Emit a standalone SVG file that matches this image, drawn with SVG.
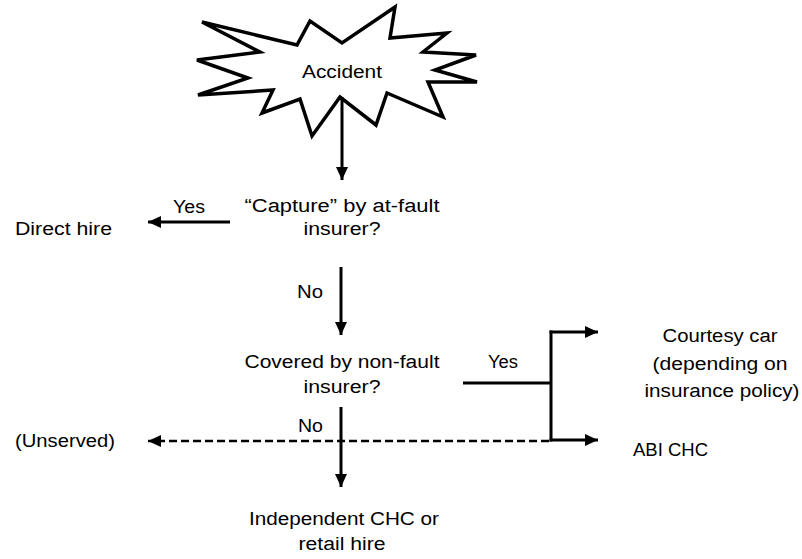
<svg xmlns="http://www.w3.org/2000/svg" width="802" height="559" viewBox="0 0 802 559">
<style>
text{font-family:"Liberation Sans",Arial,sans-serif;font-size:18px;fill:#000}
.c{text-anchor:middle}
.ln{stroke:#000;stroke-width:3;fill:none}
.dash{stroke:#000;stroke-width:2.5;fill:none;stroke-dasharray:8 4}
</style>
<defs>
<marker id="ah" markerUnits="userSpaceOnUse" markerWidth="14" markerHeight="12" refX="13" refY="6" orient="auto">
<path d="M0,0 L13,6 L0,12 Z" fill="#000"/>
</marker>
</defs>
<rect width="802" height="559" fill="#fff"/>
<g id="accident">
<polygon points="202,22 297,45 310,21 342,43 395,7 390,38 447,33 423,52 476,55 435,70 477,82 428,82 443,117 387,93 376,125 340,97 312,136 300,99 262,113 273,90 198,95 248,78 197,60 260,52" fill="#fff" stroke="#000" stroke-width="3.5" stroke-linejoin="miter"/>
<text class="c" x="342" y="78" textLength="80" lengthAdjust="spacingAndGlyphs">Accident</text>
</g>
<g id="capture">
<text class="c" x="342" y="212" textLength="195" lengthAdjust="spacingAndGlyphs">“Capture” by at-fault</text>
<text class="c" x="342" y="235" textLength="77" lengthAdjust="spacingAndGlyphs">insurer?</text>
</g>
<g id="direct-hire"><text x="15" y="235" textLength="97" lengthAdjust="spacingAndGlyphs">Direct hire</text></g>
<g id="covered">
<text class="c" x="342" y="368" textLength="195" lengthAdjust="spacingAndGlyphs">Covered by non-fault</text>
<text class="c" x="342" y="393" textLength="77" lengthAdjust="spacingAndGlyphs">insurer?</text>
</g>
<g id="courtesy">
<text class="c" x="720" y="342" textLength="115" lengthAdjust="spacingAndGlyphs">Courtesy car</text>
<text class="c" x="720" y="370" textLength="135" lengthAdjust="spacingAndGlyphs">(depending on</text>
<text class="c" x="722" y="397" textLength="155" lengthAdjust="spacingAndGlyphs">insurance policy)</text>
</g>
<g id="abi"><text x="633" y="456" textLength="75" lengthAdjust="spacingAndGlyphs">ABI CHC</text></g>
<g id="unserved"><text x="15" y="447" textLength="100" lengthAdjust="spacingAndGlyphs">(Unserved)</text></g>
<g id="independent">
<text class="c" x="344" y="525" textLength="190" lengthAdjust="spacingAndGlyphs">Independent CHC or</text>
<text class="c" x="342" y="550" textLength="87" lengthAdjust="spacingAndGlyphs">retail hire</text>
</g>
<g id="connectors">
<line class="ln" x1="342" y1="97" x2="342" y2="180" marker-end="url(#ah)"/>
<line class="ln" x1="230" y1="222" x2="148" y2="222" marker-end="url(#ah)"/>
<line class="ln" x1="341" y1="267" x2="341" y2="335" stroke-width="2.5" marker-end="url(#ah)"/>
<line class="ln" x1="463" y1="383" x2="551" y2="383"/>
<line class="ln" x1="551" y1="330.5" x2="551" y2="441.5"/>
<line class="ln" x1="549.5" y1="332" x2="598" y2="332" marker-end="url(#ah)"/>
<line class="ln" x1="549.5" y1="440" x2="598" y2="440" marker-end="url(#ah)"/>
<line class="dash" x1="549" y1="441" x2="148" y2="441" marker-end="url(#ah)"/>
<line class="ln" x1="341" y1="407" x2="341" y2="487" stroke-width="2.5" marker-end="url(#ah)"/>
<text x="173" y="213" textLength="32" lengthAdjust="spacingAndGlyphs">Yes</text>
<text x="297" y="298" textLength="26" lengthAdjust="spacingAndGlyphs">No</text>
<text x="488" y="368" textLength="30" lengthAdjust="spacingAndGlyphs">Yes</text>
<text x="298" y="432" textLength="25" lengthAdjust="spacingAndGlyphs">No</text>
</g>
</svg>
